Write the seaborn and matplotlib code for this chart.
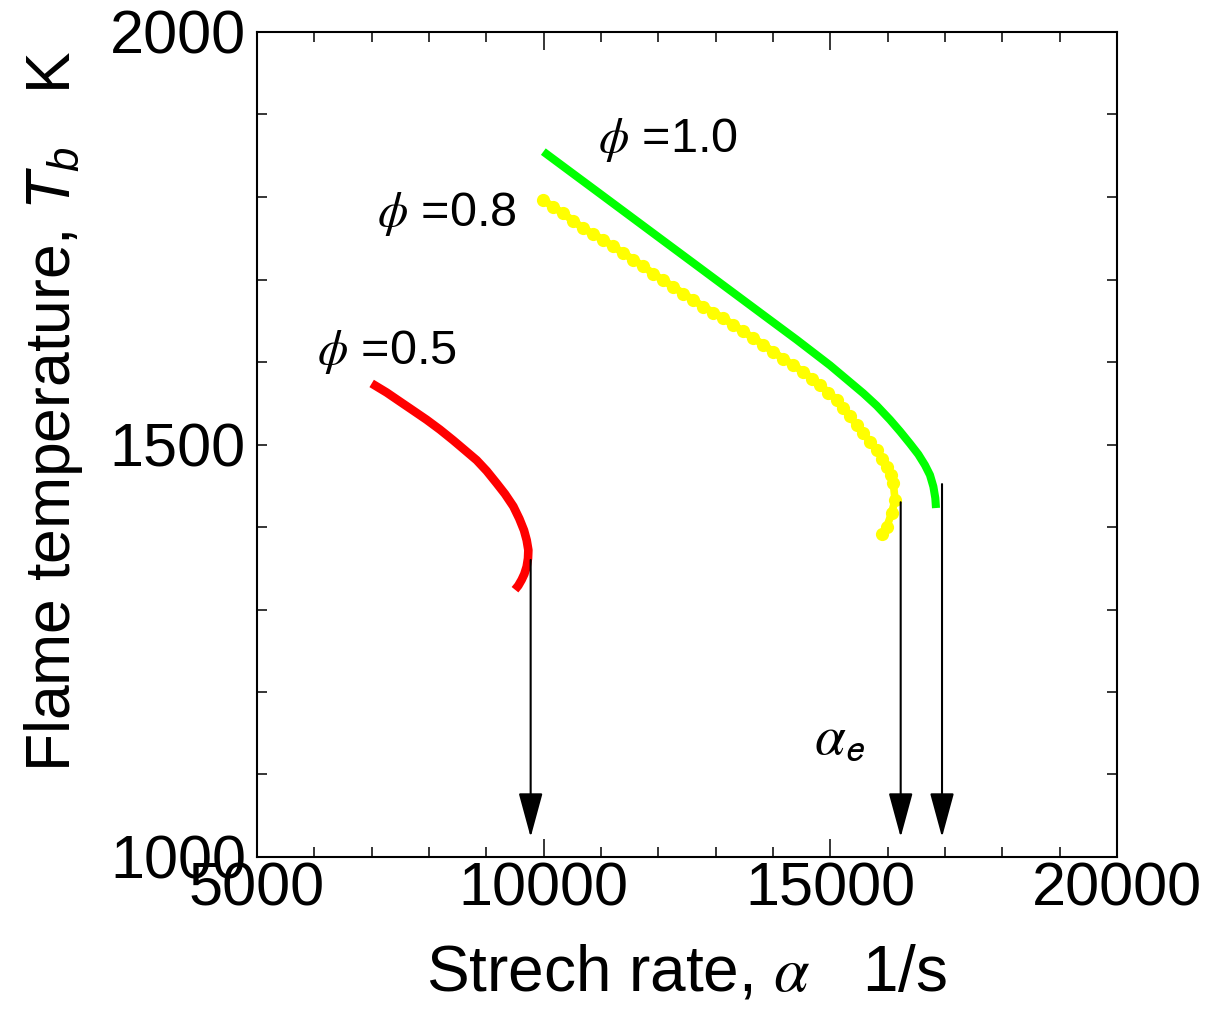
import numpy as np
import pandas as pd
import matplotlib
matplotlib.use("Agg")
import matplotlib.pyplot as plt
import seaborn as sns
from matplotlib.ticker import MultipleLocator

# ---------------- data ----------------
red_x = [7000, 7262, 7494, 7727, 7959, 8192, 8424, 8628, 8831, 9006, 9180, 9326,
         9471, 9576, 9657, 9704, 9733, 9727, 9704, 9663, 9616, 9558, 9500]
red_T = [1574, 1563, 1552, 1541, 1530, 1518, 1505, 1493, 1481, 1468, 1453, 1440,
         1425, 1410, 1396, 1384, 1372, 1362, 1352, 1343, 1336, 1329, 1324]

green_x = [9994, 10459, 10925, 11506, 12087, 12669, 13250, 13831, 14413, 14994,
           15576, 15810, 16041, 16215, 16390, 16535, 16651, 16738, 16797, 16831, 16843]
green_T = [1855, 1831, 1807, 1777, 1747, 1717, 1687, 1657, 1627, 1596,
           1562, 1547, 1530, 1516, 1501, 1488, 1475, 1463, 1449, 1435, 1423]

yellow_x = [9994, 10169, 10343, 10517, 10692, 10866, 11041, 11215, 11390, 11564,
            11738, 11913, 12087, 12262, 12436, 12610, 12785, 12959, 13134, 13308,
            13483, 13657, 13831, 14006, 14180, 14355, 14529, 14675, 14820, 14965,
            15111, 15227, 15343, 15459, 15576, 15692, 15808, 15907, 15983, 16052,
            16099, 16128, 16070, 15983, 15896]
yellow_T = [1796, 1788, 1780, 1771, 1762, 1755, 1748, 1740, 1732, 1724,
            1716, 1707, 1699, 1691, 1683, 1675, 1667, 1660, 1653, 1645,
            1637, 1629, 1621, 1612, 1604, 1596, 1588, 1580, 1572, 1563,
            1554, 1544, 1534, 1524, 1514, 1503, 1493, 1483, 1473, 1463,
            1453, 1433, 1417, 1400, 1392]

arrow_x = [9773, 16227, 16948]
arrow_top = [1360, 1430, 1452]
arrow_tip = [1024, 1024, 1024]

labels = ["$\\phi$ =0.5", "$\\phi$ =0.8", "$\\phi$ =1.0"]
label_x = [6041, 7093, 10948]
label_T = [1598, 1765, 1855]

xticks = [5000, 10000, 15000, 20000]
yticks = [1000, 1500, 2000]

# ---------------- style ----------------
sns.set_style("ticks")
plt.rcParams["font.family"] = ["Liberation Sans", "DejaVu Sans"]
plt.rcParams["text.color"] = "black"
plt.rcParams["axes.labelcolor"] = "black"
plt.rcParams["xtick.color"] = "black"
plt.rcParams["ytick.color"] = "black"
plt.rcParams["mathtext.fontset"] = "custom"
plt.rcParams["mathtext.rm"] = "Liberation Sans"
plt.rcParams["mathtext.it"] = "Liberation Sans:italic"
plt.rcParams["mathtext.bf"] = "Liberation Sans:bold"
plt.rcParams["mathtext.sf"] = "Liberation Sans"

fig = plt.figure(figsize=(12.11, 10.09), dpi=100)
ax = fig.add_axes([257 / 1211, 1 - 857 / 1009, 860 / 1211, 825 / 1009])

red = pd.DataFrame({"x": red_x, "T": red_T})
green = pd.DataFrame({"x": green_x, "T": green_T})
yellow = pd.DataFrame({"x": yellow_x, "T": yellow_T})

sns.lineplot(data=red, x="x", y="T", sort=False, estimator=None, color="#ff0000",
             lw=6.2, ax=ax, solid_capstyle="butt", solid_joinstyle="round")
sns.lineplot(data=green, x="x", y="T", sort=False, estimator=None, color="#00ff00",
             lw=5.8, ax=ax, solid_capstyle="butt", solid_joinstyle="round")
sns.lineplot(data=yellow, x="x", y="T", sort=False, estimator=None, color="#ffff00",
             lw=5.5, marker="o", markersize=9.5, markeredgewidth=0, ax=ax,
             solid_joinstyle="round")

for xa, t0, t1 in zip(arrow_x, arrow_top, arrow_tip):
    ax.annotate("", xy=(xa, t1), xytext=(xa, t0),
                arrowprops=dict(arrowstyle="-|>,head_length=1.4,head_width=0.38",
                                mutation_scale=20, lw=1.5, color="black",
                                shrinkA=0, shrinkB=0))

for s, xl, tl in zip(labels, label_x, label_T):
    ax.text(xl, tl, s, fontsize=35, ha="left", va="baseline", math_fontfamily="stix",
            color="black")

ax.text(14720, 1126, "$\\alpha_\\mathsf{e}$", fontsize=40, ha="left", va="baseline",
        math_fontfamily="stix", color="black")

ax.set_xlim(5000, 20000)
ax.set_ylim(1000, 2000)
ax.set_xticks(xticks)
ax.set_yticks(yticks)
ax.xaxis.set_minor_locator(MultipleLocator(1000))
ax.yaxis.set_minor_locator(MultipleLocator(100))
ax.tick_params(axis="both", which="both", direction="in", top=True, right=True,
               width=1.1, colors="black", labelcolor="black")
ax.tick_params(axis="x", which="major", length=13, pad=3, labelsize=44)
ax.tick_params(axis="x", which="minor", length=7)
ax.tick_params(axis="y", which="major", length=7, pad=8, labelsize=44)
ax.tick_params(axis="y", which="minor", length=7)
for sp in ax.spines.values():
    sp.set_linewidth(1.5)
    sp.set_color("black")

ax.set_xlabel("Strech rate, $\\alpha$   1/s", fontsize=46, color="black")
ax.set_ylabel("Flame temperature, $T_b$   K", fontsize=45, color="black")
ax.xaxis.label.set_math_fontfamily("stix")
ax.xaxis.set_label_coords(0.5, -0.105)
ax.yaxis.set_label_coords(-0.2, 0.54)
ax.xaxis.label.set_va("top")

fig.savefig("out.png", dpi=100)
